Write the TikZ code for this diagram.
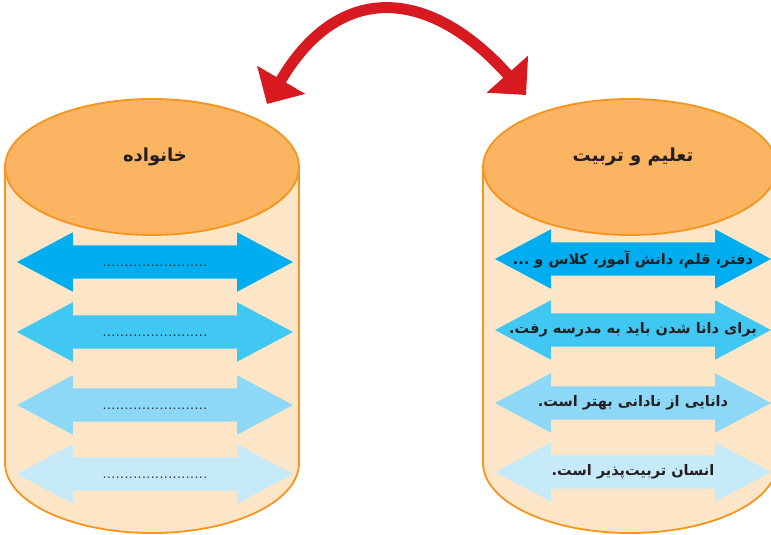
\documentclass[tikz,border=0pt]{standalone}
\usepackage{fontspec}
\usetikzlibrary{shapes.geometric,shapes.arrows,arrows.meta}
\TeXXeTstate=1
\newfontfamily\arabicfont[Script=Arabic]{DejaVu Sans}
\definecolor{topfill}{HTML}{FBB461}
\definecolor{rim}{HTML}{F7941D}
\definecolor{bodyfill}{HTML}{FDE6C8}
\definecolor{blueA}{HTML}{00AEEF}
\definecolor{blueB}{HTML}{40C7F2}
\definecolor{blueC}{HTML}{8DD8F6}
\definecolor{blueD}{HTML}{C7EAF9}
\definecolor{redarc}{HTML}{D71920}
\definecolor{ink}{HTML}{231F20}
\newcommand\dotrow{\hbox to 105pt{\xleaders\hbox to 4.375pt{\hss.\hss}\hfill}}

\begin{document}
\begin{tikzpicture}[x=1pt,y=-1pt,
    top/.style={ellipse,draw=rim,line width=1.8pt,fill=topfill,
        minimum width=294pt,minimum height=136pt,inner sep=0pt},
    band/.style={double arrow,fill=#1,minimum height=276pt,minimum width=59pt,
        double arrow head extend=13pt,double arrow tip angle=56,
        inner xsep=0pt,inner ysep=16.5pt},
    txt/.style={font=\arabicfont\bfseries\fontsize{14.5}{16}\selectfont,text=ink,inner sep=0pt}]
    \useasboundingbox (0,0) rectangle (771,535);

    \foreach \cx/\nm in {152/L,630/R}
    {\fill[bodyfill] (\cx-147,167) -- (\cx-147,463)
        arc[start angle=180,end angle=0,x radius=147,y radius=70] -- (\cx+147,167) -- cycle;
    \draw[rim,line width=1.8pt] (\cx-147,167) -- (\cx-147,463)
        arc[start angle=180,end angle=0,x radius=147,y radius=70] -- (\cx+147,167);
    \node[top] (top\nm) at (\cx,167) {};}

    \node[txt,font=\arabicfont\bfseries\fontsize{18}{20}\selectfont] (famTitle)
        at ([xshift=3pt,yshift=10pt]topL.center) {\beginR خانواده\endR};
    \node[txt,font=\arabicfont\bfseries\fontsize{18}{20}\selectfont] (eduTitle)
        at ([xshift=3pt,yshift=10pt]topR.center) {\beginR تعلیم و تربیت\endR};

    \foreach \y/\c [count=\n] in {262/blueA,332/blueB,405/blueC,474/blueD}
    {\node[band=\c] (arrL\n) at (155,\y) {};
    \node[anchor=base,inner sep=0pt,text=ink,font=\bfseries\fontsize{11}{11}\selectfont] (dotL\n) at (155,\y+4) {\dotrow};}

    \foreach \y/\c/\t [count=\n] in {259/blueA/{دفتر، قلم،  دانش آموز، کلاس و ...},
        330/blueB/{برای دانا شدن باید به مدرسه رفت.},
        403/blueC/{دانایی از نادانی بهتر است.},
        472/blueD/{انسان تربیت‌پذیر است.}}
    {\node[band=\c] (arrR\n) at (633,\y) {};
    \node[txt] (txtR\n) at (arrR\n.center) {\beginR\t\endR};}

    \coordinate (famTip) at (267,104);
    \coordinate (eduTip) at (526,95);
    \draw[redarc,line width=11pt,{Triangle[length=28pt,width=54pt]}-{Triangle[length=28pt,width=54pt]}]
        (famTip) .. controls (339.5,-20) and (430.3,-12) .. (eduTip);

\end{tikzpicture}
\end{document}
